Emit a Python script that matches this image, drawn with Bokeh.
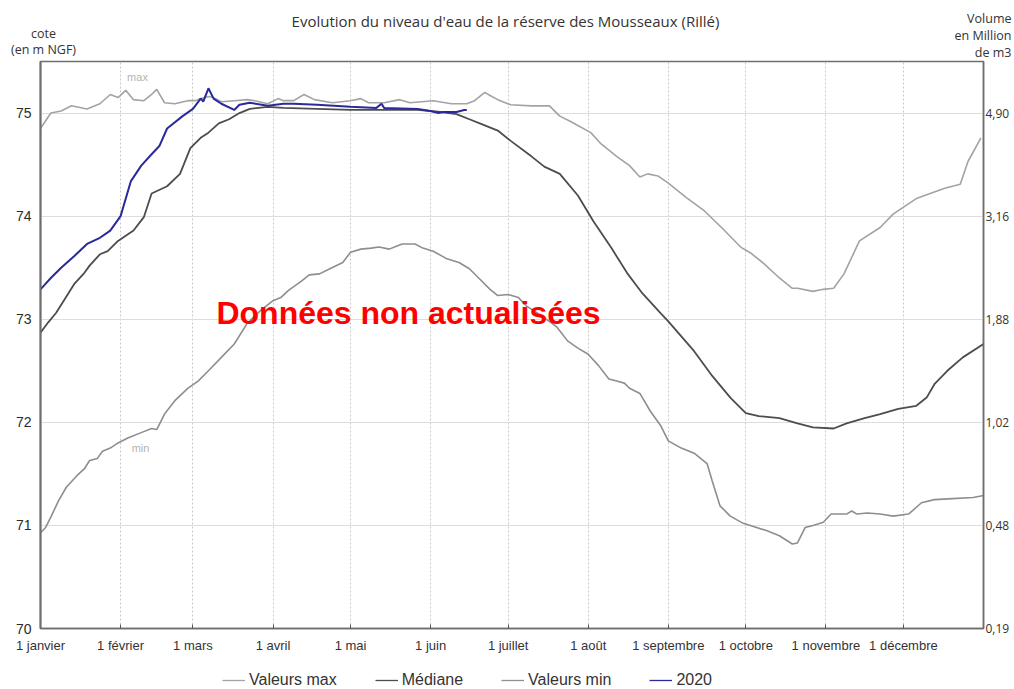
from bokeh.plotting import figure
from bokeh.layouts import column
from bokeh.models import Range1d, LinearAxis, FixedTicker, Label, Legend, LegendItem
from bokeh.embed import file_html
from bokeh.resources import INLINE

# ---------------- data ----------------
month_days = [0, 31, 59, 90, 120, 151, 181, 212, 243, 273, 304, 334]
month_labels = ["1 janvier", "1 février", "1 mars", "1 avril", "1 mai", "1 juin",
                "1 juillet", "1 août", "1 septembre", "1 octobre", "1 novembre", "1 décembre"]
level_ticks = [70, 71, 72, 73, 74, 75]
volume_labels = ["0,19", "0,48", "1,02", "1,88", "3,16", "4,90"]

max_day = [0, 4, 8, 12, 18, 23, 27, 30, 33, 36, 40, 43, 45, 48, 52, 57, 60, 62, 65, 67, 70,
           75, 80, 83, 88, 92, 94, 98, 102, 106, 113, 120, 124, 127, 133, 139, 143, 152, 159,
           165, 168, 172, 174, 177, 182, 190, 197, 201, 205, 213, 217, 223, 228, 232, 235,
           239, 243, 250, 257, 264, 271, 275, 280, 286, 291, 293, 299, 303, 307, 311, 317,
           325, 330, 339, 350, 356, 359, 364]
max_level = [74.85, 75.00, 75.02, 75.07, 75.04, 75.09, 75.18, 75.15, 75.22, 75.13, 75.12,
             75.18, 75.23, 75.10, 75.09, 75.12, 75.12, 75.14, 75.16, 75.15, 75.11, 75.12,
             75.13, 75.12, 75.09, 75.14, 75.12, 75.12, 75.18, 75.13, 75.10, 75.12, 75.14,
             75.10, 75.10, 75.13, 75.10, 75.12, 75.09, 75.09, 75.12, 75.20, 75.17, 75.13,
             75.08, 75.07, 75.07, 74.97, 74.92, 74.81, 74.70, 74.58, 74.49, 74.38, 74.41,
             74.39, 74.32, 74.18, 74.05, 73.88, 73.70, 73.64, 73.54, 73.40, 73.30, 73.30,
             73.27, 73.29, 73.30, 73.44, 73.76, 73.89, 74.02, 74.17, 74.27, 74.31, 74.53,
             74.76]

med_day = [0, 3, 6, 9, 13, 17, 19, 23, 26, 30, 36, 40, 43, 49, 54, 58, 62, 65, 69, 73, 77,
           81, 88, 94, 107, 120, 133, 146, 155, 161, 166, 171, 177, 182, 190, 195, 201, 208,
           214, 221, 227, 233, 240, 243, 253, 260, 267, 273, 278, 286, 293, 299, 307, 312,
           319, 325, 332, 339, 343, 346, 351, 357, 365]
med_level = [72.87, 72.97, 73.06, 73.18, 73.34, 73.45, 73.52, 73.63, 73.66, 73.76, 73.86,
             73.99, 74.22, 74.29, 74.41, 74.66, 74.76, 74.81, 74.90, 74.94, 75.00, 75.04,
             75.06, 75.05, 75.04, 75.03, 75.03, 75.03, 75.01, 74.99, 74.94, 74.89, 74.83,
             74.73, 74.58, 74.48, 74.41, 74.20, 73.95, 73.69, 73.45, 73.25, 73.06, 72.98,
             72.69, 72.45, 72.24, 72.09, 72.06, 72.04, 71.99, 71.95, 71.94, 71.99, 72.04,
             72.08, 72.13, 72.16, 72.24, 72.37, 72.50, 72.63, 72.76]

min_day = [0, 2, 4, 7, 10, 14, 17, 19, 22, 24, 27, 30, 34, 39, 43, 45, 48, 52, 57, 61, 65,
           70, 75, 80, 85, 90, 93, 96, 101, 104, 108, 112, 117, 120, 124, 128, 131, 135, 138,
           140, 145, 148, 152, 157, 162, 166, 170, 174, 177, 181, 185, 188, 193, 198, 200,
           204, 208, 212, 216, 220, 223, 226, 228, 232, 236, 240, 243, 248, 253, 258, 260,
           263, 267, 272, 281, 286, 291, 293, 296, 299, 303, 306, 312, 314, 316, 320, 325,
           330, 336, 341, 346, 353, 361, 365]
min_level = [70.93, 70.98, 71.08, 71.24, 71.37, 71.48, 71.55, 71.63, 71.65, 71.72, 71.75,
             71.80, 71.85, 71.90, 71.94, 71.93, 72.08, 72.21, 72.33, 72.40, 72.50, 72.63,
             72.76, 72.96, 73.08, 73.18, 73.21, 73.28, 73.37, 73.43, 73.44, 73.49, 73.55,
             73.65, 73.68, 73.69, 73.70, 73.68, 73.71, 73.73, 73.73, 73.69, 73.66, 73.59,
             73.55, 73.49, 73.39, 73.29, 73.23, 73.24, 73.21, 73.13, 73.05, 72.96, 72.92,
             72.79, 72.72, 72.66, 72.55, 72.42, 72.40, 72.38, 72.33, 72.28, 72.11, 71.97,
             71.82, 71.75, 71.70, 71.60, 71.43, 71.19, 71.09, 71.02, 70.95, 70.90, 70.82,
             70.83, 70.98, 71.00, 71.03, 71.11, 71.11, 71.14, 71.11, 71.12, 71.11, 71.09,
             71.11, 71.22, 71.25, 71.26, 71.27, 71.29]

y2020_day = [0, 4, 8, 13, 18, 23, 27, 31, 35, 39, 43, 46, 49, 55, 59, 62, 63, 65, 67, 70,
             75, 77, 81, 88, 94, 98, 107, 120, 130, 132, 133, 146, 151, 154, 156, 161, 164,
             165]
y2020_level = [73.29, 73.40, 73.50, 73.61, 73.73, 73.79, 73.86, 74.00, 74.34, 74.49, 74.60,
               74.68, 74.85, 74.97, 75.04, 75.14, 75.11, 75.24, 75.14, 75.09, 75.03, 75.08,
               75.10, 75.07, 75.09, 75.09, 75.08, 75.06, 75.05, 75.09, 75.05, 75.04, 75.02,
               75.00, 75.01, 75.01, 75.03, 75.03]

series_names = ["Valeurs max", "Médiane", "Valeurs min", "2020"]
series_colors = ["#a3a3a3", "#4d4d4d", "#8e8e8e", "#2a2a9a"]
title_text = "Evolution du niveau d'eau de la réserve des Mousseaux (Rillé)"
left_unit = ["cote", "(en m NGF)"]
right_unit = ["Volume", "en Million", "de m3"]

SANS = "Liberation Sans"
CAL = "Open Sans"


def bare(height):
    f = figure(width=1014, height=height, output_backend="svg", toolbar_location=None,
               x_range=Range1d(0, 1), y_range=Range1d(0, 1), title=None,
               x_axis_location=None, y_axis_location=None, frame_align=False,
               min_border_left=0, min_border_right=0, min_border_top=0, min_border_bottom=0)
    f.grid.visible = False
    f.outline_line_color = None
    return f


def lab(fig, text, x, y, size, color="#333333", font=CAL, align="center", style="normal"):
    fig.add_layout(Label(x=x, y=y, x_units="screen", y_units="screen", text=text,
                         text_font=font, text_font_size=size, text_color=color,
                         text_align=align, text_baseline="middle", text_font_style=style))


# ---------------- header (titles) ----------------
head = bare(60)
lab(head, title_text, 505, 40, "15px")
lab(head, left_unit[0], 43, 27, "12.5px")
lab(head, left_unit[1], 43, 11, "12.5px")
lab(head, right_unit[0], 1011, 42, "12.5px", align="right")
lab(head, right_unit[1], 1011, 25, "12.5px", align="right")
lab(head, right_unit[2], 1011, 8, "12.5px", align="right")

# ---------------- main chart ----------------
p = figure(width=1014, height=600, output_backend="svg", toolbar_location=None,
           x_range=Range1d(0, 365), y_range=Range1d(70, 75.5), title=None, frame_align=False,
           min_border_left=40, min_border_top=1, min_border_right=31, min_border_bottom=32)
p.background_fill_color = "white"
p.border_fill_color = "white"
p.outline_line_color = "#6e6e6e"
p.outline_line_width = 1.5

p.xaxis.ticker = FixedTicker(ticks=month_days)
p.xaxis.major_label_overrides = {d: l for d, l in zip(month_days, month_labels)}
p.xaxis.major_label_text_font = SANS
p.xaxis.major_label_text_font_size = "13px"
p.xaxis.major_label_text_color = "#333333"
p.xaxis.major_label_standoff = 9
p.xaxis.major_tick_in = 4
p.xaxis.major_tick_out = 0
p.xaxis.major_tick_line_color = "#555555"
p.xaxis.minor_tick_line_color = None
p.xaxis.axis_line_color = "#6e6e6e"
p.xaxis.axis_line_width = 1.5

p.yaxis.ticker = FixedTicker(ticks=level_ticks)
p.yaxis.major_label_text_font = SANS
p.yaxis.major_label_text_font_size = "14px"
p.yaxis.major_label_text_color = "#2a2a2a"
p.yaxis.major_label_standoff = 9
p.yaxis.major_tick_in = 0
p.yaxis.major_tick_out = 0
p.yaxis.minor_tick_line_color = None
p.yaxis.axis_line_color = "#6e6e6e"
p.yaxis.axis_line_width = 2

ax2 = LinearAxis(ticker=FixedTicker(ticks=level_ticks),
                 major_label_overrides={t: v for t, v in zip(level_ticks, volume_labels)})
ax2.major_label_text_font = CAL
ax2.major_label_text_font_size = "12px"
ax2.major_label_text_color = "#333333"
ax2.major_label_standoff = 2
ax2.major_tick_in = 0
ax2.major_tick_out = 0
ax2.minor_tick_line_color = None
ax2.axis_line_color = "#6e6e6e"
ax2.axis_line_width = 1.5
p.add_layout(ax2, "right")

p.xgrid.grid_line_color = "#c8c8c8"
p.xgrid.grid_line_dash = "2 2"
p.xgrid.grid_line_width = 1
p.ygrid.grid_line_color = "#dddddd"
p.ygrid.grid_line_width = 1.2

p.line(max_day, max_level, line_color=series_colors[0], line_width=1.6)
p.line(med_day, med_level, line_color=series_colors[1], line_width=1.8)
p.line(min_day, min_level, line_color=series_colors[2], line_width=1.6)
p.line(y2020_day, y2020_level, line_color=series_colors[3], line_width=2)

lab(p, "Données non actualisées", 368, 316, "32px", color="#ff0000", font=SANS, style="bold")
lab(p, "max", 97, 552, "11px", color="#b3b3b3", font=SANS)
lab(p, "min", 100, 181, "11px", color="#b3b3b3", font=SANS)

# ---------------- footer (legend) ----------------
foot = bare(29)
# legend keys only: two points outside the footer's visible range
keys = [foot.line([-3, -2], [-3, -2], line_color=c, line_width=1.3) for c in series_colors]
legend = Legend(items=[LegendItem(label=n, renderers=[r]) for n, r in zip(series_names, keys)],
                orientation="horizontal", location=(222, 0),
                glyph_width=23, glyph_height=16, label_standoff=4, spacing=38,
                padding=0, margin=0, border_line_alpha=0, background_fill_alpha=0,
                label_text_font=SANS, label_text_font_size="16px",
                label_text_color="#333333")
foot.add_layout(legend)

open("out.html", "w").write(file_html(column(head, p, foot, spacing=0), INLINE))
